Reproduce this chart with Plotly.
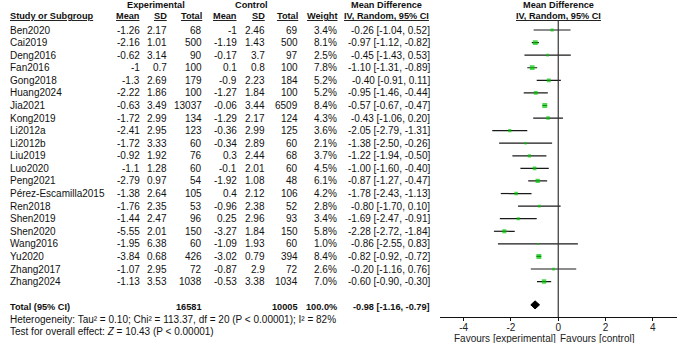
import plotly.graph_objects as go

studies = ["Ben2020", "Cai2019", "Deng2016", "Fan2016", "Gong2018", "Huang2024", "Jia2021",
           "Kong2019", "Li2012a", "Li2012b", "Liu2019", "Luo2020", "Peng2021",
           "Pérez-Escamilla2015", "Ren2018", "Shen2019", "Shen2020", "Wang2016", "Yu2020",
           "Zhang2017", "Zhang2024"]
exp_mean = [-1.26, -2.16, -0.62, -1, -1.3, -2.22, -0.63, -1.72, -2.41, -1.72, -0.92, -1.1, -2.79,
            -1.38, -1.76, -1.44, -5.55, -1.95, -3.84, -1.07, -1.13]
exp_sd = [2.17, 1.01, 3.14, 0.7, 2.69, 1.86, 3.49, 2.99, 2.95, 3.33, 1.92, 1.28, 0.97,
          2.64, 2.35, 2.47, 2.01, 6.38, 0.68, 2.95, 3.53]
exp_n = [68, 500, 90, 100, 179, 100, 13037, 134, 123, 60, 76, 60, 54, 105, 53, 96, 150, 60, 426, 72, 1038]
ctl_mean = [-1, -1.19, -0.17, 0.1, -0.9, -1.27, -0.06, -1.29, -0.36, -0.34, 0.3, -0.1, -1.92,
            0.4, -0.96, 0.25, -3.27, -1.09, -3.02, -0.87, -0.53]
ctl_sd = [2.46, 1.43, 3.7, 0.8, 2.23, 1.84, 3.44, 2.17, 2.99, 2.89, 2.44, 2.01, 1.08,
          2.12, 2.38, 2.96, 1.84, 1.93, 0.79, 2.9, 3.38]
ctl_n = [69, 500, 97, 100, 184, 100, 6509, 124, 125, 60, 68, 60, 48, 106, 52, 93, 150, 60, 394, 72, 1034]
weight = [3.4, 8.1, 2.5, 7.8, 5.2, 5.2, 8.4, 4.3, 3.6, 2.1, 3.7, 4.5, 6.1, 4.2, 2.8, 3.4, 5.8,
          1.0, 8.4, 2.6, 7.0]
md = [-0.26, -0.97, -0.45, -1.10, -0.40, -0.95, -0.57, -0.43, -2.05, -1.38, -1.22, -1.00, -0.87,
      -1.78, -0.80, -1.69, -2.28, -0.86, -0.82, -0.20, -0.60]
ci_lo = [-1.04, -1.12, -1.43, -1.31, -0.91, -1.46, -0.67, -1.06, -2.79, -2.50, -1.94, -1.60, -1.27,
         -2.43, -1.70, -2.47, -2.72, -2.55, -0.92, -1.16, -0.90]
ci_hi = [0.52, -0.82, 0.53, -0.89, 0.11, -0.44, -0.47, 0.20, -1.31, -0.26, -0.50, -0.40, -0.47,
         -1.13, 0.10, -0.91, -1.84, 0.83, -0.72, 0.76, -0.30]

total_exp_n = 16581
total_ctl_n = 10005
total_weight = 100.0
total_md = -0.98
total_lo = -1.16
total_hi = -0.79

heterogeneity = "Heterogeneity: Tau² = 0.10; Chi² = 113.37, df = 20 (P < 0.00001); I² = 82%"
overall = "Test for overall effect: <i>Z</i> = 10.43 (P < 0.00001)"
tick_vals = [-4, -2, 0, 2, 4]
tick_text = ["-4", "-2", "0", "2", "4"]
favour_left = "Favours [experimental]"
favour_right = "Favours [control]"

# ---------------- layout helpers ----------------
W, H = 685, 343
FONT = "Liberation Sans, Arial, sans-serif"
ROW0, ROWH = 30.0, 12.58        # pixel of first row, row spacing
AXIS_PX = 317.0                 # pixel of x axis line
HEAD_PX = 21.0


def px2row(p):
    return (p - ROW0) / ROWH


def py(p):  # pixel -> paper y
    return 1 - p / H


def pxx(p):  # pixel -> paper x
    return p / W


rows = list(range(len(studies)))
total_row = 21.85

fig = go.Figure()

# CI lines
xs, ys = [], []
for r, lo, hi in zip(rows, ci_lo, ci_hi):
    xs += [lo, hi, None]
    ys += [r, r, None]
fig.add_trace(go.Scatter(x=xs, y=ys, mode="lines", line=dict(color="#1a1a1a", width=1.2),
                         hoverinfo="skip", showlegend=False))

# squares
fig.add_trace(go.Scatter(x=md, y=rows, mode="markers",
                         marker=dict(symbol="square", color="#00c800",
                                     size=[1.7 * w ** 0.5 for w in weight], line=dict(width=0)),
                         showlegend=False))

# diamond
dh = 0.32
fig.add_trace(go.Scatter(x=[total_lo, total_md, total_hi, total_md, total_lo],
                         y=[total_row, total_row - dh, total_row, total_row + dh, total_row],
                         mode="lines", fill="toself", fillcolor="black",
                         line=dict(color="black", width=1), showlegend=False))

# vertical line at zero
fig.add_shape(type="line", xref="x", yref="paper", x0=0, x1=0, y0=py(AXIS_PX), y1=py(HEAD_PX),
              line=dict(color="#333333", width=1.2))

ann = []


def txt(x, y, t, anchor="right", size=10, bold=False, under=False, yref="y", color="#111"):
    f = dict(family=FONT, size=size, color=color)
    if under:
        f["lineposition"] = "under"
    ann.append(dict(x=pxx(x), y=y, xref="paper", yref=yref, text=(f"<b>{t}</b>" if bold else t),
                    showarrow=False, xanchor=anchor, yanchor="middle", font=f))


def g(v):
    return f"{v:g}"


for r in rows:
    txt(8, r, studies[r], anchor="left")
    txt(142, r, g(exp_mean[r]))
    txt(168.5, r, g(exp_sd[r]))
    txt(204, r, str(exp_n[r]))
    txt(238.5, r, g(ctl_mean[r]))
    txt(267, r, g(ctl_sd[r]))
    txt(299.5, r, str(ctl_n[r]))
    txt(339, r, f"{weight[r]:.1f}%")
    txt(432, r, f"{md[r]:.2f} [{ci_lo[r]:.2f}, {ci_hi[r]:.2f}]")

# headers
HB = 9.2
txt(156, py(4.5), "Experimental", anchor="center", size=HB, bold=True, yref="paper")
txt(252, py(4.5), "Control", anchor="center", size=HB, bold=True, yref="paper")
txt(386, py(4.5), "Mean Difference", anchor="center", size=HB, bold=True, yref="paper")
txt(558, py(4.5), "Mean Difference", anchor="center", size=HB, bold=True, yref="paper")
h2 = py(16.5)
txt(8, h2, "Study or Subgroup", anchor="left", size=HB, bold=True, under=True, yref="paper")
txt(142, h2, "Mean", size=HB, bold=True, under=True, yref="paper")
txt(168.5, h2, "SD", size=HB, bold=True, under=True, yref="paper")
txt(204, h2, "Total", size=HB, bold=True, under=True, yref="paper")
txt(238.5, h2, "Mean", size=HB, bold=True, under=True, yref="paper")
txt(267, h2, "SD", size=HB, bold=True, under=True, yref="paper")
txt(299.5, h2, "Total", size=HB, bold=True, under=True, yref="paper")
txt(339, h2, "Weight", size=HB, bold=True, under=True, yref="paper")
txt(386, h2, "IV, Random, 95% CI", anchor="center", size=HB, bold=True, under=True, yref="paper")
txt(558, h2, "IV, Random, 95% CI", anchor="center", size=HB, bold=True, under=True, yref="paper")

# total row
tr = total_row + 0.2
txt(8, tr, "Total (95% CI)", anchor="left", size=HB, bold=True)
txt(204, tr, str(total_exp_n), size=HB, bold=True)
txt(299.5, tr, str(total_ctl_n), size=HB, bold=True)
txt(339, tr, f"{total_weight:.1f}%", size=HB, bold=True)
txt(432, tr, f"{total_md:.2f} [{total_lo:.2f}, {total_hi:.2f}]", size=HB, bold=True)

txt(8, py(319), heterogeneity, anchor="left", yref="paper")
txt(8, py(331.5), overall, anchor="left", yref="paper")

txt(505, py(338.5), favour_left, anchor="center", yref="paper", color="#222")
txt(597, py(338.5), favour_right, anchor="center", yref="paper", color="#222")

fig.update_layout(
    width=W, height=H, margin=dict(l=0, r=0, t=0, b=0),
    paper_bgcolor="white", plot_bgcolor="white",
    annotations=ann, showlegend=False,
    xaxis=dict(domain=[pxx(440), pxx(676.5)], range=[-5, 5], showgrid=False, zeroline=False,
               showline=True, linecolor="#111", linewidth=1, ticks="outside", ticklen=3,
               tickcolor="#111", tickvals=tick_vals, ticktext=tick_text, ticklabelstandoff=-2,
               tickfont=dict(family=FONT, size=10, color="#222"), fixedrange=True),
    yaxis=dict(domain=[py(AXIS_PX), 1], range=[px2row(AXIS_PX), px2row(0)], visible=False,
               fixedrange=True),
)

fig.write_html("out.html", config={"displayModeBar": False},
               post_script="document.body.style.margin='0';document.body.style.overflow='hidden';")
